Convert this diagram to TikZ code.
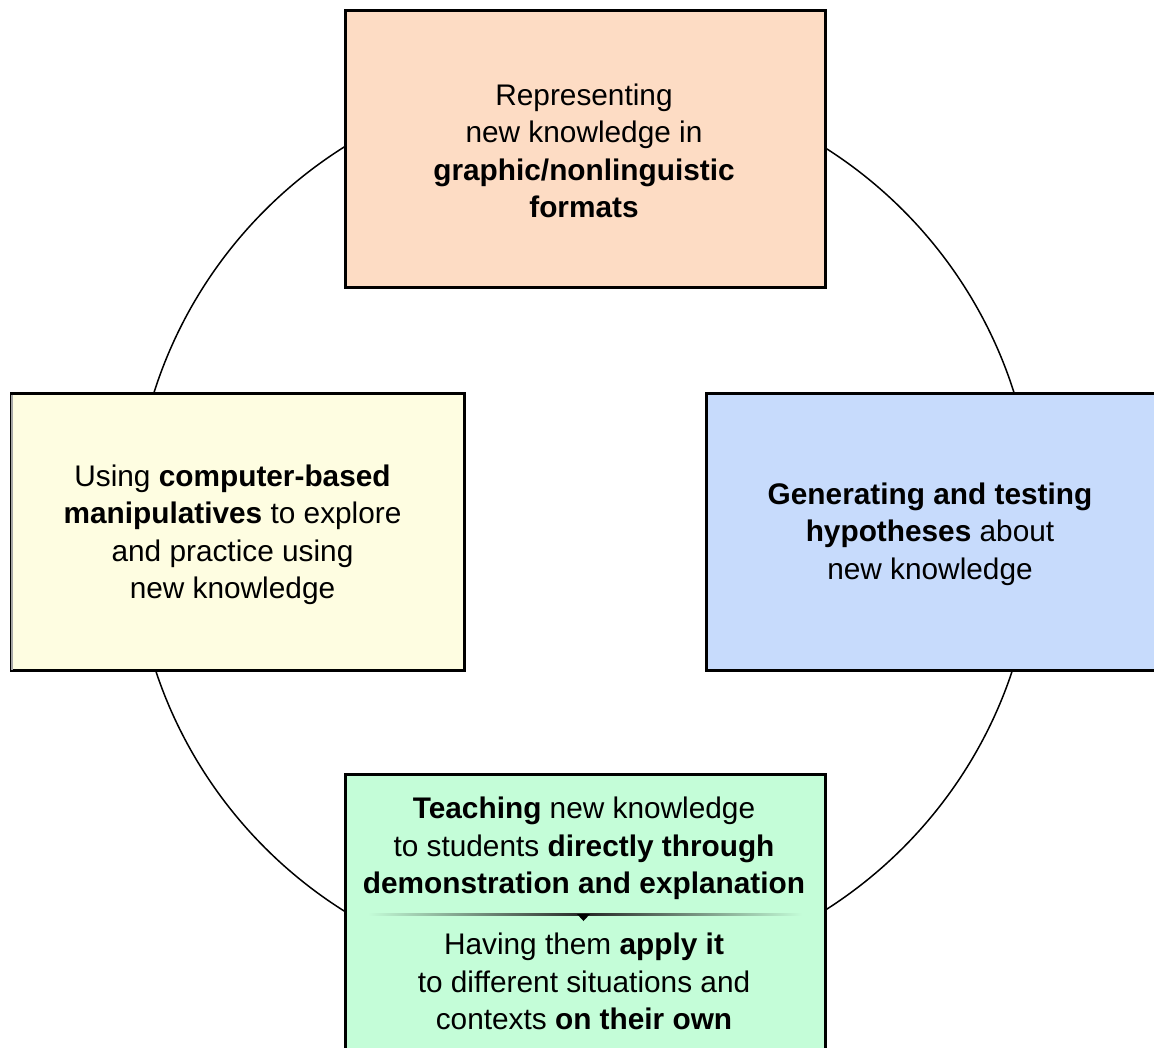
\documentclass[tikz,border=0pt]{standalone}
\usepackage{fontspec}
\setmainfont{Liberation Sans}
\definecolor{peach}{RGB}{253,220,196}
\definecolor{cream}{RGB}{254,253,225}
\definecolor{skyblue}{RGB}{199,219,252}
\definecolor{mint}{RGB}{196,253,216}
\begin{document}
\begin{tikzpicture}[x=1pt,y=-1pt,
  boxst/.style={draw=black, line width=3pt, inner sep=0pt, minimum width=#1, minimum height=277pt},
  boxst/.default=480pt,
  txt/.style={align=center, inner sep=0pt, font=\fontsize{29.8}{37.5}\selectfont}]
\useasboundingbox (0,0) rectangle (1154,1047);
\clip (0,0) rectangle (1154,1047);
\fill[white] (0,0) rectangle (1154,1047);
% ring
\node[circle, draw=black, line width=1.5pt, minimum size=902pt, inner sep=0pt] (ring) at (584,529) {};
% top
\node[boxst, fill=peach] (topbox) at (585,148.5) {};
\node[txt] (toptext) at (584,151) {Representing\\new knowledge in\\\textbf{graphic/nonlinguistic}\\\textbf{formats}};
% left
\node[boxst=453pt, fill=cream] (leftbox) at (237.5,532) {};
\draw[gray!70, line width=2pt] ([xshift=2.5pt,yshift=-2.5pt]leftbox.north west) -- ([xshift=2.5pt,yshift=2.5pt]leftbox.south west);
\node[txt] (lefttext) at (232.5,535) {Using \textbf{computer-based}\\\textbf{manipulatives} to explore\\and practice using\\new knowledge};
% right
\node[boxst=453pt, fill=skyblue] (rightbox) at (933,532) {};
\node[txt] (righttext) at (930,534) {\textbf{Generating and testing}\\\textbf{hypotheses} about\\new knowledge};
% bottom
\node[boxst, fill=mint] (botbox) at (585.5,912.5) {};
\node[txt] (bottext1) at (584,848.5) {\textbf{Teaching} new knowledge\\to students \textbf{directly through}\\\textbf{demonstration and explanation}};
\node[txt] (bottext2) at (584,981.5) {Having them \textbf{apply it}\\to different situations and\\contexts \textbf{on their own}};
% divider
\coordinate (dl) at (368,913);
\coordinate (dr) at (802,915.2);
\shade[left color=mint, right color=mint, middle color=black!85] (dl) rectangle (dr);
\coordinate (ta) at (577,914);
\coordinate (tb) at (590,914);
\coordinate (tc) at (583.5,921);
\fill[black] (ta) -- (tb) -- (tc) -- cycle;
\end{tikzpicture}
\end{document}
